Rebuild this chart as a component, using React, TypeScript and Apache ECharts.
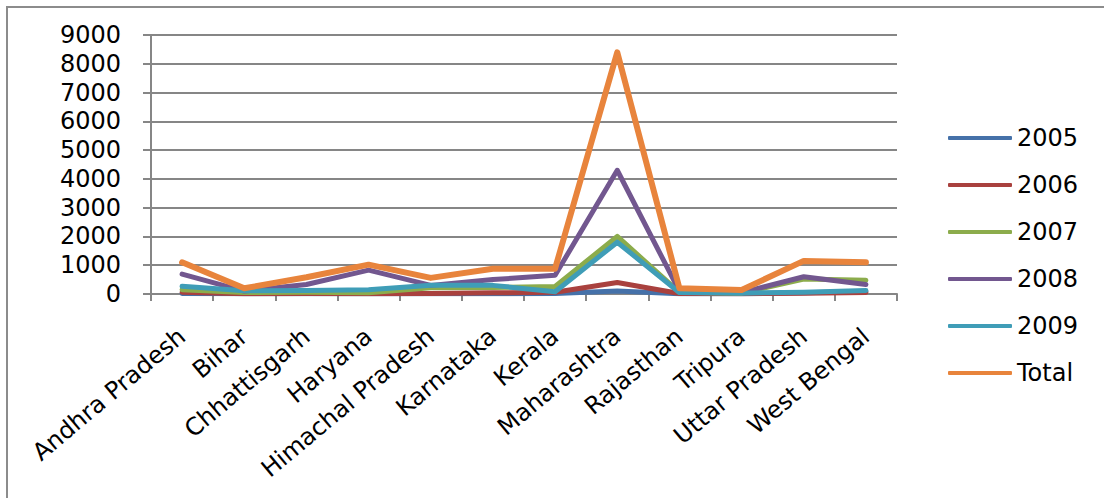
import React, { useEffect, useRef } from "react";
import * as echarts from "echarts";

const states = [
  "Andhra Pradesh", "Bihar", "Chhattisgarh", "Haryana", "Himachal Pradesh", "Karnataka",
  "Kerala", "Maharashtra", "Rajasthan", "Tripura", "Uttar Pradesh", "West Bengal",
];
const seriesNames = ["2005", "2006", "2007", "2008", "2009", "Total"];
const v2005 = [20, 5, 10, 10, 10, 10, 20, 100, 10, 5, 40, 90];
const v2006 = [60, 10, 20, 10, 20, 40, 60, 400, 20, 10, 30, 50];
const v2007 = [150, 50, 60, 40, 220, 230, 260, 2000, 60, 30, 520, 480];
const v2008 = [690, 100, 330, 830, 300, 500, 650, 4300, 100, 50, 600, 330];
const v2009 = [270, 110, 120, 150, 300, 300, 80, 1800, 50, 30, 60, 120];
const vTotal = [1100, 200, 580, 1020, 560, 880, 880, 8400, 200, 140, 1150, 1100];
const colors = ["#4571a9", "#a9413e", "#8cac4c", "#72578f", "#3f9db7", "#e8843c"];
const yTicks = { min: 0, max: 9000, interval: 1000 };

const FONT = "DejaVu Sans";

export default function App() {
  const ref = useRef<HTMLDivElement>(null);
  useEffect(() => {
    if (!ref.current) return;
    const chart = echarts.init(ref.current, null, { renderer: "svg" });
    const all = [v2005, v2006, v2007, v2008, v2009, vTotal];
    chart.setOption({
      animation: false,
      backgroundColor: "#ffffff",
      color: colors,
      graphic: [
        {
          type: "rect",
          shape: { x: 7, y: 7, width: 1200, height: 600 },
          style: { fill: "none", stroke: "#8c8c8c", lineWidth: 2 },
          silent: true,
        },
      ],
      grid: { left: 151, right: 207, top: 35, bottom: 204 },
      legend: {
        orient: "vertical",
        left: 943,
        top: 121,
        itemWidth: 64,
        itemHeight: 4,
        itemGap: 23,
        icon: "roundRect",
        data: seriesNames,
        textStyle: { fontFamily: FONT, fontSize: 24, color: "#000", lineHeight: 24 },
      },
      xAxis: {
        type: "category",
        data: states,
        boundaryGap: true,
        axisLine: { lineStyle: { color: "#868686", width: 2 } },
        axisTick: { show: true, length: 7, lineStyle: { color: "#868686", width: 2 } },
        axisLabel: {
          rotate: 40,
          interval: 0,
          margin: 39,
          fontFamily: FONT,
          fontSize: 24,
          color: "#000",
        },
      },
      yAxis: {
        type: "value",
        min: yTicks.min,
        max: yTicks.max,
        interval: yTicks.interval,
        axisLine: { show: true, lineStyle: { color: "#868686", width: 2 } },
        axisTick: { show: true, length: 8, lineStyle: { color: "#868686", width: 2 } },
        splitLine: { lineStyle: { color: "#868686", width: 2 } },
        axisLabel: {
          margin: 30,
          fontFamily: FONT,
          fontSize: 24,
          color: "#000",
          formatter: (v: number) => String(v),
        },
      },
      series: seriesNames.map((n, i) => ({
        name: n,
        type: "line",
        data: all[i],
        symbol: "none",
        lineStyle: { width: i === 5 ? 6 : 5, cap: "round", join: "round" },
        z: 2 + i,
      })),
    });
    return () => chart.dispose();
  }, []);
  return (
    <div
      ref={ref}
      style={{ position: "fixed", left: 0, top: 0, width: 1104, height: 498 }}
    />
  );
}
